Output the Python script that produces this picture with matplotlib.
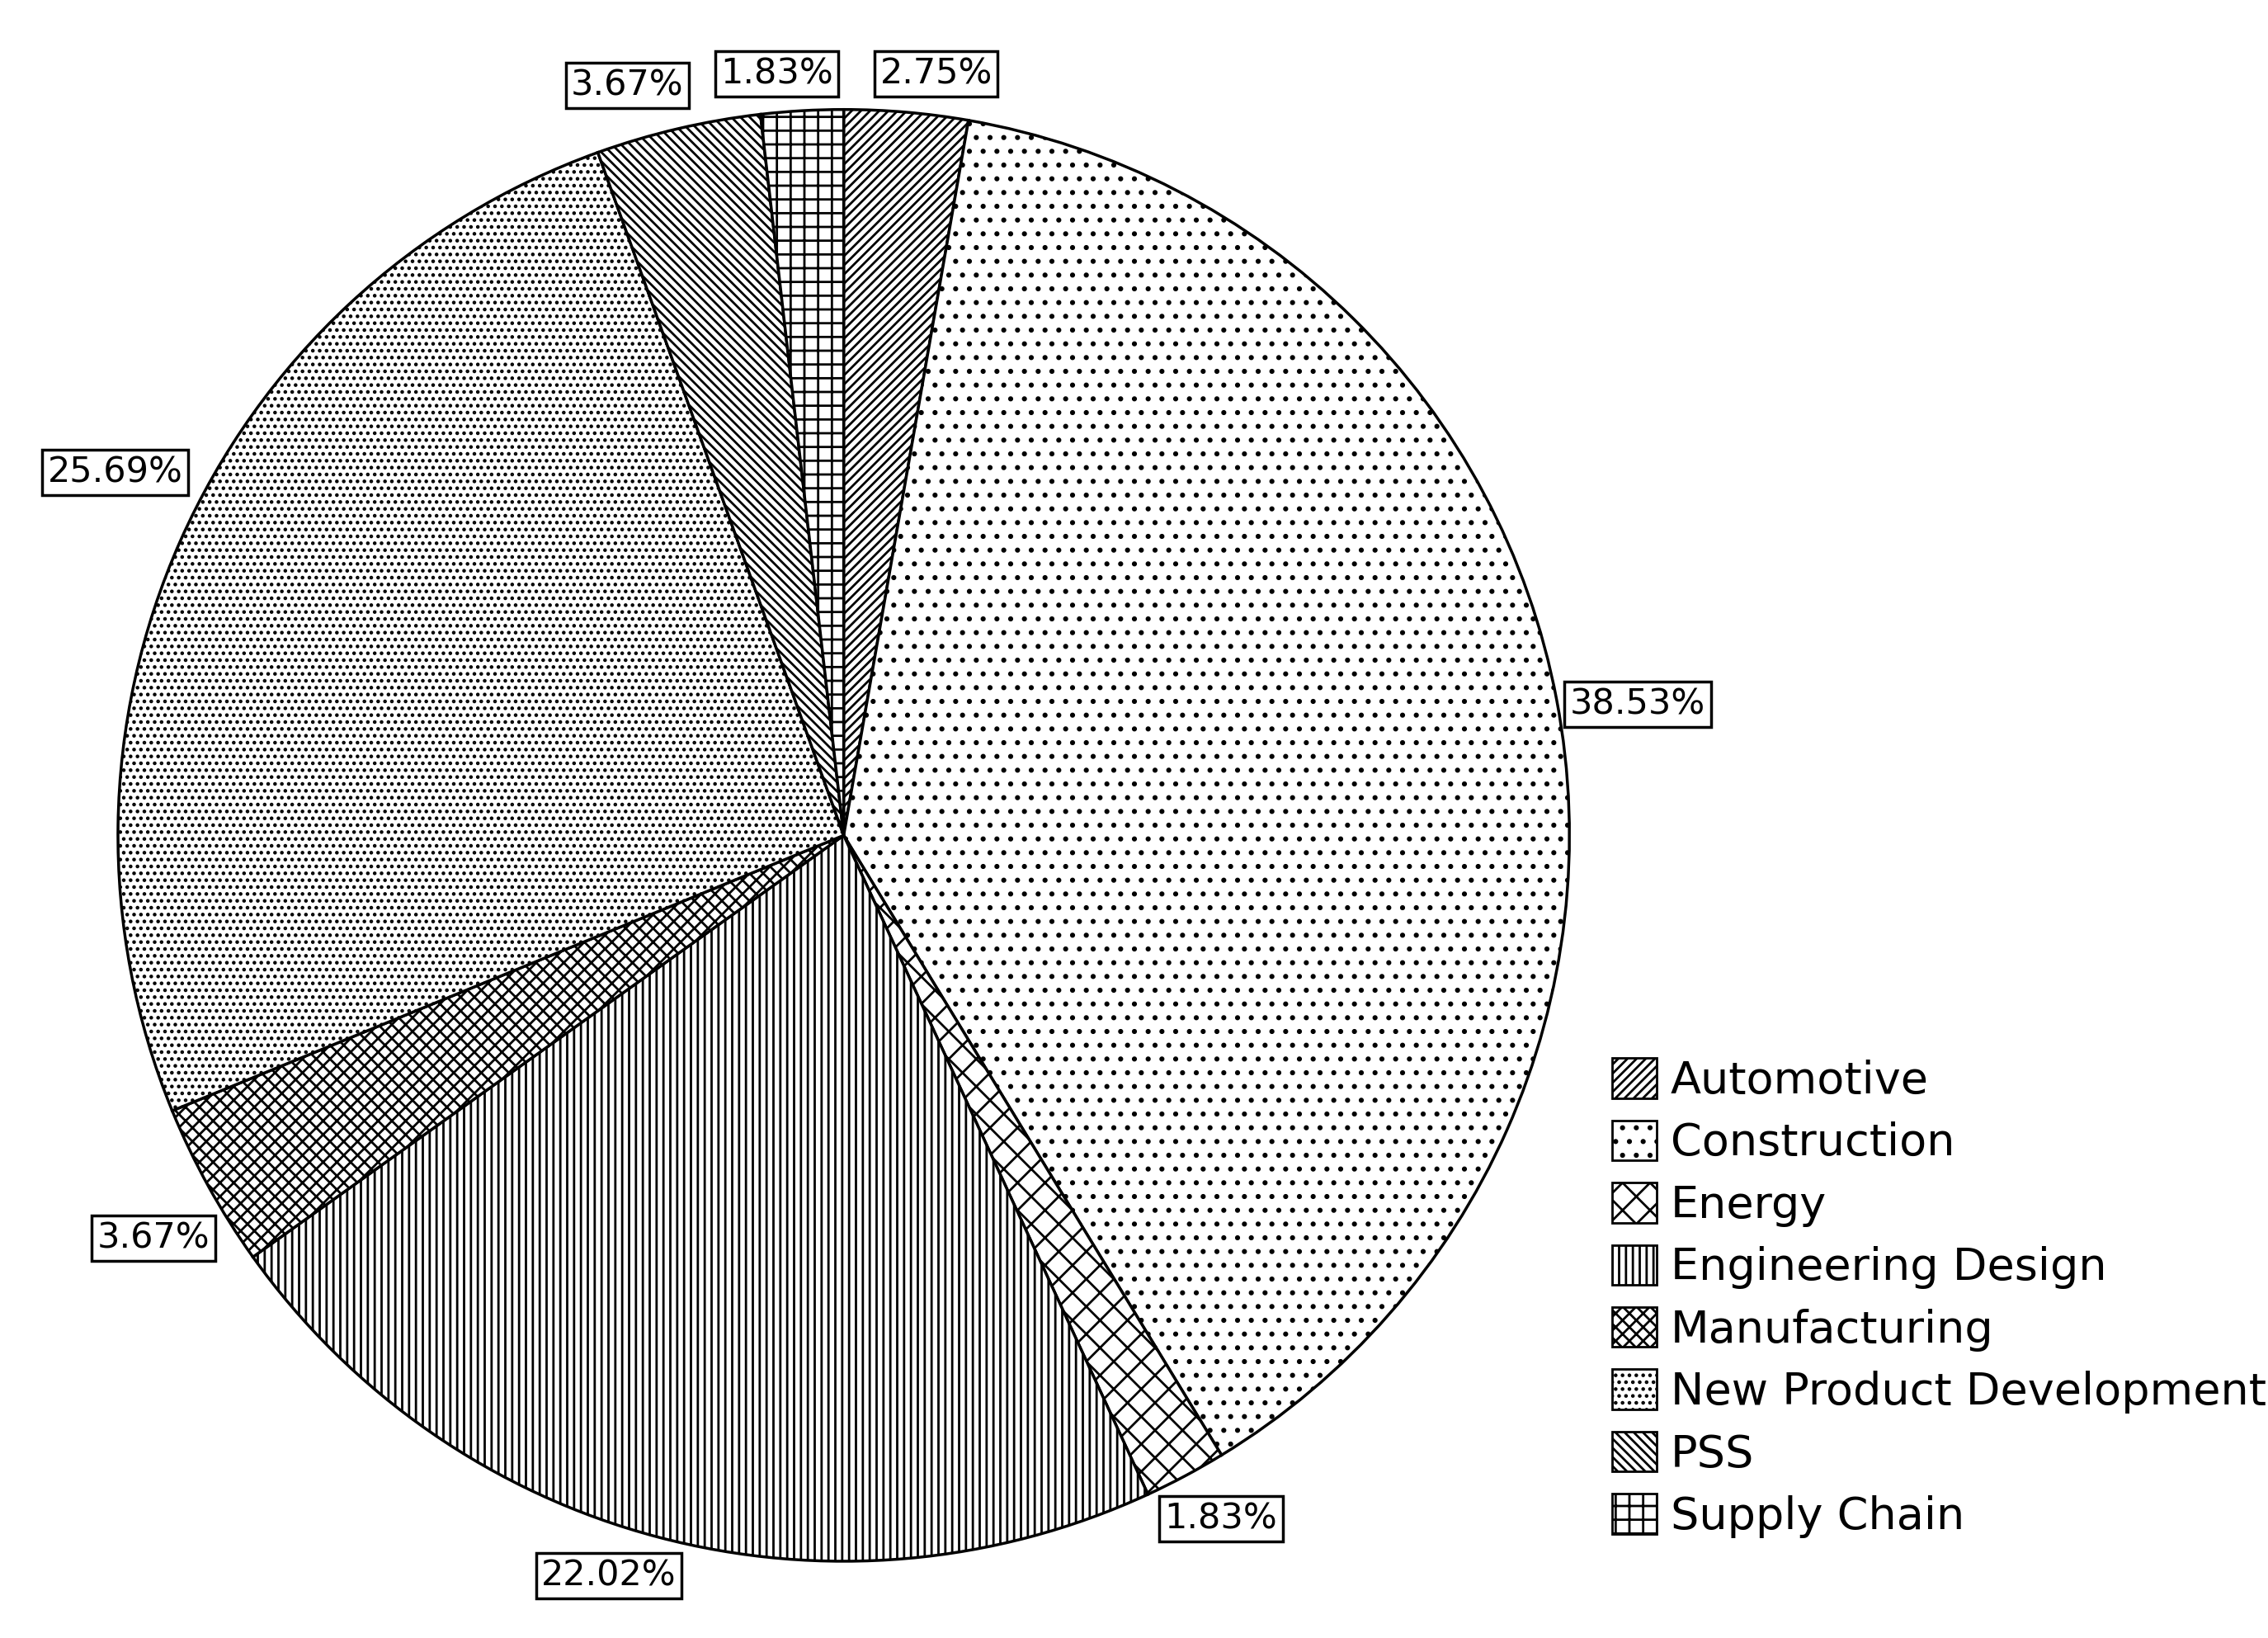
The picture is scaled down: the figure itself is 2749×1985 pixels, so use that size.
import matplotlib.pyplot as plt
from matplotlib.patches import Patch

plt.rcParams['hatch.linewidth'] = 2.0
plt.rcParams['font.family'] = ['DejaVu Sans']

categories = ["Automotive", "Construction", "Energy", "Engineering Design",
              "Manufacturing", "New Product Development", "PSS", "Supply Chain"]
shares = [2.75, 38.53, 1.83, 22.02, 3.67, 25.69, 3.67, 1.83]
labels = ["2.75%", "38.53%", "1.83%", "22.02%", "3.67%", "25.69%", "3.67%", "1.83%"]
hatches = ["///", ".", "x", "||", "xx", "..", "\\\\\\", "+"]

# label box positions (px in a 1560-wide view, centre 580,575, radius 510)
label_px = [(645, 40), (1138, 483), (845, 1055), (415, 1095),
            (95, 858), (68, 320), (428, 48), (533, 40)]

fig = plt.figure(figsize=(27.49, 19.85), dpi=100)
ax = fig.add_axes([0.372 - 0.3267, 0.49 - 0.452, 0.6534, 0.904])
wedges, _ = ax.pie(shares, startangle=90, counterclock=False, radius=1,
                   colors=["white"] * len(shares),
                   wedgeprops=dict(edgecolor="black", linewidth=2.5))
for w, h in zip(wedges, hatches):
    w.set_hatch(h)
ax.set_xlim(-1.02, 1.02)
ax.set_ylim(-1.02, 1.02)
ax.set_aspect("equal")
ax.axis("off")

for lab, (px, py) in zip(labels, label_px):
    x = (px - 580) / 510
    y = (575 - py) / 510
    ax.text(x, y, lab, fontsize=31, ha="center", va="center", zorder=5, clip_on=False,
            bbox=dict(boxstyle="square,pad=0.15", fc="white", ec="black", lw=2.5))

handles = [Patch(facecolor="white", edgecolor="black", hatch=h, lw=2) for h in hatches]
fig.legend(handles, categories, loc="upper left", bbox_to_anchor=(0.703, 0.365),
           frameon=False, fontsize=39, handlelength=1.0, handleheight=1.0,
           handletextpad=0.3, labelspacing=0.4, borderaxespad=0)

fig.savefig("out.png", dpi=100, facecolor="white")
